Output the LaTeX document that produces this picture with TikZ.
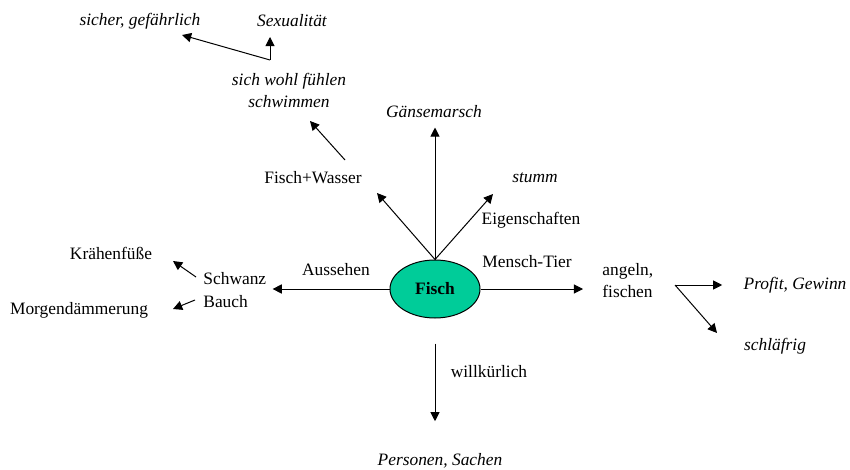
\documentclass[tikz,border=0pt]{standalone}
\usepackage{fontspec}
\setmainfont{Liberation Serif}
\usetikzlibrary{arrows.meta,shapes.geometric}
\definecolor{fischgruen}{RGB}{0,204,153}

\begin{document}
\begin{tikzpicture}[x=0.5pt,y=-0.5pt,
    every node/.style={inner sep=0pt, font=\fontsize{8.7}{11}\selectfont},
    kursiv/.style={font=\fontsize{8.7}{11}\selectfont\itshape},
    pfeil/.style={-{Triangle[length=4.6pt,width=4.6pt]}, line width=0.5pt}]
    \useasboundingbox (0,0) rectangle (850,470);

    % Mitte
    \node[ellipse, draw, line width=0.5pt, fill=fischgruen, minimum width=45pt, minimum height=29pt,
          font=\fontsize{8.7}{11}\selectfont\bfseries] (fisch) at (435,289) {Fisch};

    % Begriffe
    \node[kursiv] (gaense) at (434,112) {Gänsemarsch};
    \node (wasser) at (313,178) {Fisch+Wasser};
    \node[kursiv] (stumm) at (535,178) {stumm};
    \node (eigen) at (531,220) {Eigenschaften};
    \node (mensch) at (527,262) {Mensch-Tier};
    \node[anchor=west, align=left] (angeln) at (602,281) {angeln,\\fischen};
    \node[kursiv] (profit) at (795,285) {Profit, Gewinn};
    \node[kursiv] (schlaefrig) at (775,346) {schläfrig};
    \node (aussehen) at (336,270) {Aussehen};
    \node[anchor=west] (schwanz) at (203,279) {Schwanz};
    \node[anchor=west] (bauch) at (203,302) {Bauch};
    \node (kraehen) at (111,253) {Krähenfüße};
    \node (morgen) at (79,310) {Morgendämmerung};
    \node[kursiv, align=center] (wohl) at (289,90) {sich wohl fühlen\\schwimmen};
    \node[kursiv] (sicher) at (140,21) {sicher, gefährlich};
    \node[kursiv] (sexual) at (292,21) {Sexualität};
    \node (willk) at (489,372) {willkürlich};
    \node[kursiv] (personen) at (440,461) {Personen, Sachen};

    % Knickpunkte
    \coordinate (wspitze) at (377,193);
    \coordinate (sspitze) at (493,194);
    \coordinate (wfuss) at (345,160);
    \coordinate (wkopf) at (310,121);
    \coordinate (knick) at (270,60);
    \coordinate (sexspitze) at (270,37);
    \coordinate (sispitze) at (182,35);
    \coordinate (gabel) at (675,285);
    \coordinate (gspitze) at (717,333);
    \coordinate (schwfuss) at (196,277);
    \coordinate (krspitze) at (173,261);
    \coordinate (bafuss) at (195,300);
    \coordinate (mospitze) at (173,309);

    % Pfeile
    \draw[pfeil, shorten >=4.5pt] (fisch.north) -- (fisch.north |- gaense.south);
    \draw[pfeil] (fisch.north) -- (wspitze);
    \draw[pfeil] (fisch.north) -- (sspitze);
    \draw[pfeil] (fisch.east) -- ([xshift=-9.5pt]fisch.east -| angeln.west);
    \draw[pfeil] (fisch.west) -- ([xshift=3pt]fisch.west -| schwanz.east);
    \draw[pfeil, shorten <=12.5pt, shorten >=16pt] (fisch.south) -- (fisch.south |- personen.north);
    \draw[pfeil] (wfuss) -- (wkopf);
    \draw[pfeil] (knick) -- (sexspitze);
    \draw[pfeil] (knick) -- (sispitze);
    \draw[pfeil, shorten >=10.5pt] (gabel) -- (gabel -| profit.west);
    \draw[pfeil] (gabel) -- (gspitze);
    \draw[pfeil] (schwfuss) -- (krspitze);
    \draw[pfeil] (bafuss) -- (mospitze);
\end{tikzpicture}
\end{document}
